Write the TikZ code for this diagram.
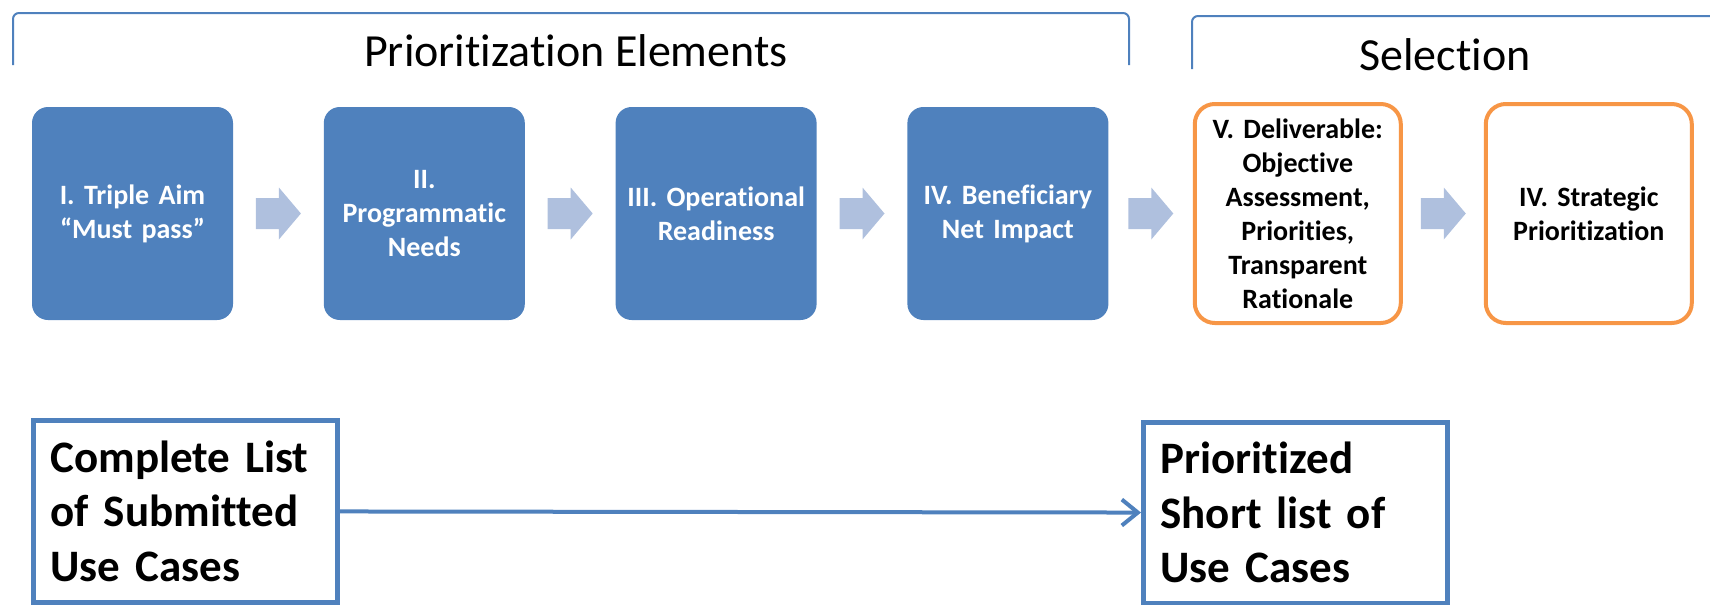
\documentclass[tikz,border=0pt]{standalone}
\usepackage{fontspec}
\setmainfont{Carlito}[Ligatures=NoCommon]
\usetikzlibrary{positioning,calc,arrows.meta}
\definecolor{stepblue}{RGB}{79,129,189}
\definecolor{flowblue}{RGB}{175,192,222}
\definecolor{selorange}{RGB}{247,150,70}

\begin{document}
\begin{tikzpicture}[x=0.5pt,y=-0.5pt,
    element/.style={rectangle,rounded corners=8pt,fill=stepblue,text=white,minimum width=100.5pt,minimum height=106.5pt,text width=92pt,align=center,inner sep=0pt,font=\bfseries\fontsize{14}{17}\selectfont},
    choice/.style={rectangle,rounded corners=10pt,draw=selorange,line width=2pt,fill=white,minimum width=103pt,minimum height=109.5pt,text width=96pt,align=center,inner sep=0pt,font=\bfseries\fontsize{14}{17}\selectfont},
    bracket/.style={draw=stepblue,line width=1pt,rounded corners=3pt},
    heading/.style={anchor=base,inner sep=0pt,font=\fontsize{23}{28}\selectfont},
    listbox/.style={rectangle,draw=stepblue,line width=2.5pt,minimum height=90.75pt,text width=135pt,inner xsep=8.5pt,align=left,font=\bfseries\fontsize{22.5}{27.25}\selectfont},
    pics/flow/.style={code={\fill[flowblue] (-11.25pt,-7.75pt) -- (0.25pt,-7.75pt) -- (0.25pt,-13pt) -- (11.25pt,0pt) -- (0.25pt,13pt) -- (0.25pt,7.75pt) -- (-11.25pt,7.75pt) -- cycle;}}]
  \useasboundingbox (0,0) rectangle (1710,605);

  % group brackets and headings
  \draw[bracket] (13,65) -- (13,13) -- (1129,13) -- (1129,65);
  \draw[bracket] (1192,69) -- (1192,16) -- (1712,16);
  \node[heading] (prio) at (576,66) {Prioritization Elements};
  \node[heading] (select) at (1445,70) {Selection};

  % prioritization steps
  \node[element] (aim) at (132.5,213.5) {I. Triple Aim\\“Must pass”};
  \node[element,right=45pt of aim] (needs) {II.\\Programmatic\\Needs};
  \node[element,right=45pt of needs] (ready) {III. Operational\\Readiness};
  \node[element,right=45pt of ready] (impact) {IV. Beneficiary\\Net Impact};
  \node[choice,right=42pt of impact] (deliver) {V. Deliverable:\\Objective\\Assessment,\\Priorities,\\Transparent\\Rationale};
  \node[choice,right=40.5pt of deliver] (strategy) {IV. Strategic\\Prioritization};

  \foreach \a/\b in {aim/needs,needs/ready,ready/impact,impact/deliver,deliver/strategy}
    \pic at ($(\a.east)!0.5!(\b.west)$) {flow};

  % lists
  \node[listbox] (complete) at (185.5,511.25) {Complete List\\of Submitted\\Use Cases};
  \node[listbox] (shortlist) at (1295.5,512.75) {Prioritized\\Short list of\\Use Cases};
  \draw[stepblue,line width=2pt,-{Straight Barb[length=8pt,width=13pt]}] (complete) -- (shortlist);
\end{tikzpicture}
\end{document}
